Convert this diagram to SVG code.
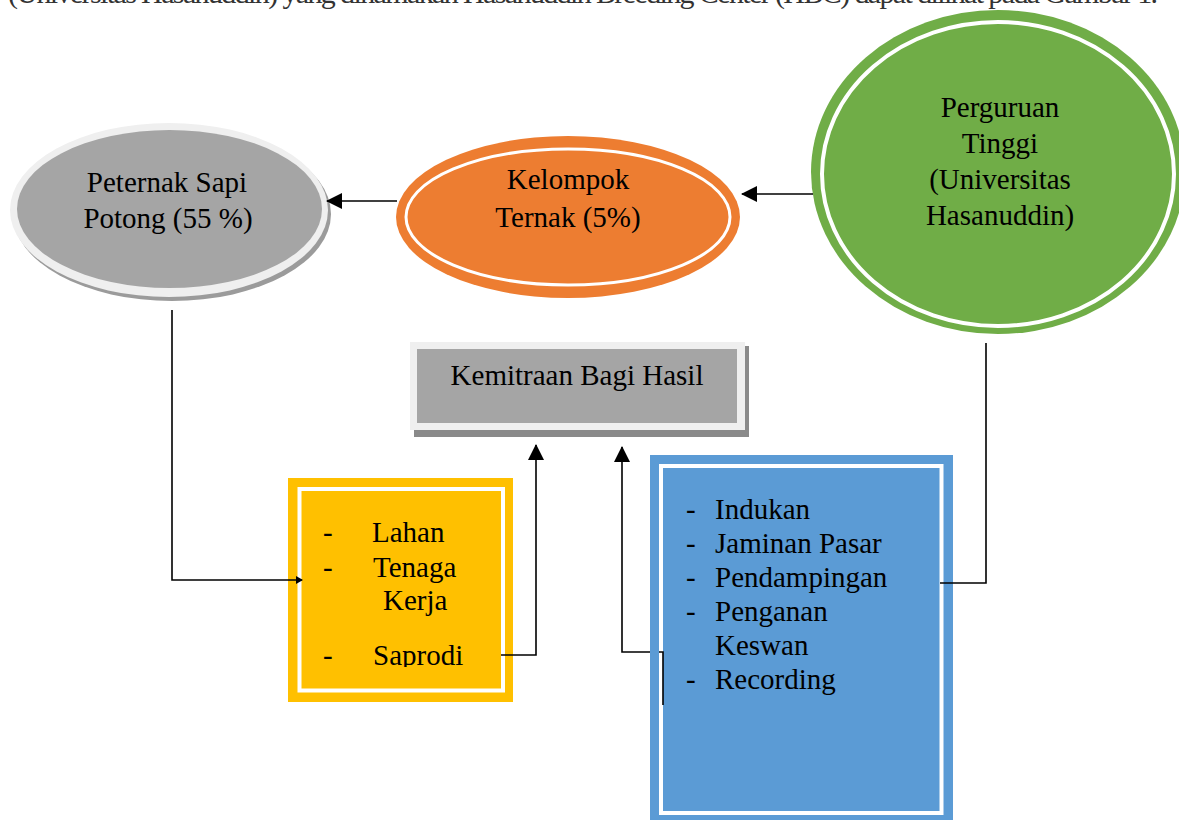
<svg xmlns="http://www.w3.org/2000/svg" width="1179" height="820" viewBox="0 0 1179 820">
<style>
.t{font-family:"Liberation Serif","Times New Roman",serif;font-size:29px;fill:#000}
.c{text-anchor:middle}
.ln{fill:none;stroke:#000;stroke-width:1.6}
</style>
<defs>
<marker id="ah" markerUnits="userSpaceOnUse" markerWidth="16" markerHeight="16" viewBox="0 0 16 16" refX="15" refY="8" orient="auto">
<path d="M0,0 L16,8 L0,16 z" fill="#000"/>
</marker>
<marker id="ahs" markerUnits="userSpaceOnUse" markerWidth="7" markerHeight="8" viewBox="0 0 7 8" refX="6" refY="4" orient="auto">
<path d="M0,0 L7,4 L0,8 z" fill="#000"/>
</marker>
<clipPath id="yclip"><rect x="300" y="490" width="202" height="177"/></clipPath>
</defs>
<rect width="1179" height="820" fill="#fff"/>
<text class="t" x="8" y="3" style="font-size:30px;fill:#333" textLength="1150" lengthAdjust="spacing">(Universitas Hasanuddin) yang dinamakan Hasanuddin Breeding Center (HBC) dapat dilihat pada Gambar 1.</text>

<g id="peternak">
<ellipse cx="172" cy="214" rx="159" ry="87" fill="#9b9b9b"/>
<ellipse cx="169" cy="210" rx="159" ry="87" fill="#efefef"/>
<ellipse cx="169.5" cy="209" rx="152.5" ry="79" fill="#a5a5a5"/>
<text class="t c" x="167" y="192">Peternak Sapi</text>
<text class="t c" x="168" y="228">Potong (55 %)</text>
</g>

<g id="kelompok">
<ellipse cx="568" cy="217" rx="172" ry="81" fill="#ed7d31"/>
<ellipse cx="568" cy="217" rx="162" ry="68" fill="none" stroke="#fff" stroke-width="3"/>
<text class="t c" x="568" y="189">Kelompok</text>
<text class="t c" x="568" y="227">Ternak (5%)</text>
</g>

<g id="perguruan">
<ellipse cx="998" cy="172" rx="187" ry="162" fill="#70ad47"/>
<ellipse cx="998" cy="174" rx="176" ry="152" fill="none" stroke="#fff" stroke-width="4"/>
<text class="t c" x="1000" y="117">Perguruan</text>
<text class="t c" x="1000" y="153">Tinggi</text>
<text class="t c" x="1000" y="189">(Universitas</text>
<text class="t c" x="1000" y="225">Hasanuddin)</text>
</g>

<g id="kemitraan">
<rect x="414" y="346" width="335" height="91" fill="#8a8a8a"/>
<rect x="410" y="342" width="335" height="88" fill="#efefef"/>
<rect x="417" y="349" width="320" height="74" fill="#a5a5a5"/>
<text class="t c" x="577" y="385">Kemitraan Bagi Hasil</text>
</g>

<g id="sumber-peternak">
<rect x="288" y="478" width="225" height="224" fill="#ffc000"/>
<rect x="299.5" y="489" width="203.5" height="201.5" fill="none" stroke="#fff" stroke-width="4"/>
<g clip-path="url(#yclip)">
<text class="t" x="323" y="542">-</text>
<text class="t" x="372" y="542">Lahan</text>
<text class="t" x="323" y="577">-</text>
<text class="t" x="373" y="577">Tenaga</text>
<text class="t" x="383" y="610">Kerja</text>
<text class="t" x="323" y="665">-</text>
<text class="t" x="373" y="665">Saprodi</text>
</g>
</g>

<g id="sumber-perguruan">
<rect x="650" y="455" width="303" height="370" fill="#5b9bd5"/>
<rect x="661" y="466" width="280.5" height="347" fill="none" stroke="#fff" stroke-width="4"/>
<text class="t" x="686" y="519">-</text>
<text class="t" x="715" y="519">Indukan</text>
<text class="t" x="686" y="553">-</text>
<text class="t" x="715" y="553">Jaminan Pasar</text>
<text class="t" x="686" y="587">-</text>
<text class="t" x="715" y="587">Pendampingan</text>
<text class="t" x="686" y="621">-</text>
<text class="t" x="715" y="621">Penganan</text>
<text class="t" x="715" y="655">Keswan</text>
<text class="t" x="686" y="689">-</text>
<text class="t" x="715" y="689">Recording</text>
</g>

<g id="connectors">
<line class="ln" x1="813" y1="194" x2="742" y2="194" marker-end="url(#ah)"/>
<line class="ln" x1="397" y1="201" x2="327" y2="201" marker-end="url(#ah)"/>
<path class="ln" d="M172,310 V580 H302" marker-end="url(#ahs)"/>
<path class="ln" d="M986,343 V583 H940"/>
<path class="ln" d="M501,655 H536 V445" marker-end="url(#ah)"/>
<path class="ln" d="M663,705 V652 H659"/>
<path class="ln" d="M650,652 H622 V447" marker-end="url(#ah)"/>
</g>
</svg>
